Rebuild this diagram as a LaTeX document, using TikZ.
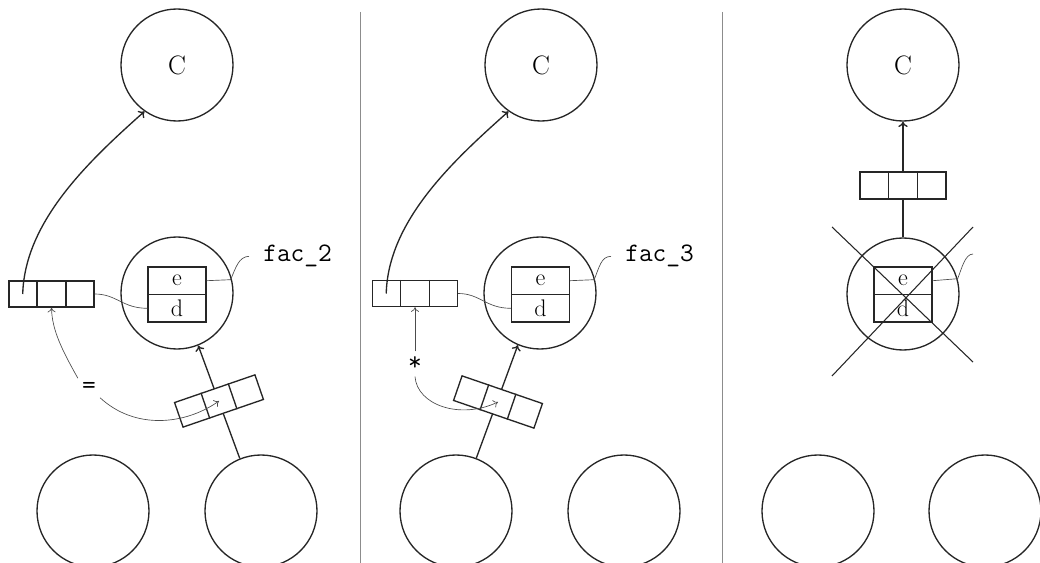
\documentclass[tikz,border=0pt]{standalone}
\usepackage{fontspec}
\usetikzlibrary{calc,arrows.meta}

% dividers of a three-cell record box (works for rotated boxes too)
\newcommand\celldiv[1]{%
  \draw[ink] ($(#1.north west)!1/3!(#1.north east)$) -- ($(#1.south west)!1/3!(#1.south east)$)
             ($(#1.north west)!2/3!(#1.north east)$) -- ($(#1.south west)!2/3!(#1.south east)$);}

\begin{document}
\begin{tikzpicture}[x=0.75pt,y=-0.75pt,
  every node/.style={inner sep=0pt},
  ink/.style={draw=black!85, line width=1pt},
  ring/.style={circle, ink, minimum size=84pt, font=\fontsize{20}{24}\selectfont},
  tribox/.style={rectangle, ink, fill=white, minimum width=63.75pt, minimum height=19.5pt},
  slot/.style={rectangle, ink, fill=white, minimum width=43.5pt, minimum height=20.6pt,
               font=\fontsize{18}{21}\selectfont},
  arrow/.style={ink, -{To[length=4pt,width=7pt]}},
  wire/.style={draw=black!70, line width=0.5pt},
  wirearrow/.style={wire, -{To[length=3.5pt,width=6pt]}},
  sep/.style={draw=black!45, line width=0.5pt},
  code/.style={font=\ttfamily\fontsize{20}{24}\selectfont},
  cross/.style={draw=black!85, line width=0.8pt}
]
\useasboundingbox (0,0) rectangle (1040,563);
\clip (0,0) rectangle (1040,563);

% panel separators
\draw[sep] (360,12) -- (360,563);
\draw[sep] (722,12) -- (722,563);

% ---------------- first panel ----------------
\node[ring] (C1) at (177,65) {C};
\node[ring] (M1) at (177,293) {};
\node[slot] (e1) at (177,280.7) {e};
\node[slot] (d1) at (177,308.3) {d};
\node[tribox] (L1) at (51.5,294) {}; \celldiv{L1}
\node[ring] (B1a) at (93,511) {};
\node[ring] (B1b) at (261,511) {};
\draw[arrow] (B1b.112) -- (M1.292);
\node[tribox, rotate=19] (T1) at (219,401) {}; \celldiv{T1}

\draw[arrow] ($(L1.west)!1/6!(L1.east)$) .. controls +(2,-73) and +(-55,49) .. (C1.235);
\draw[wire] (L1.east) .. controls +(22,0) and +(-25,0) .. (d1.west);
\node[code, anchor=base west, inner xsep=10.5pt] (F1) at (249,262) {fac\_2};
\draw[wire] (e1.east) -- ++(24,-1) .. controls +(5,-12) and +(-10,0) .. (F1.west);

\node[code, inner sep=3pt] (Q1) at (89,388) {=};
\draw[wirearrow] (Q1.north west) .. controls (62,350) and (52,330) .. (L1.south);
\draw[wirearrow] (Q1.south east) .. controls (135,430) and (185,425) .. (T1.center);

% ---------------- second panel ----------------
\node[ring] (C2) at (541,65) {C};
\node[ring] (M2) at (540,293) {};
\node[slot] (e2) at (540.5,280.7) {e};
\node[slot] (d2) at (540.5,308.3) {d};
\node[tribox] (L2) at (415,293.5) {}; \celldiv{L2}
\node[ring] (B2a) at (456,511) {};
\node[ring] (B2b) at (624,511) {};
\draw[arrow] (B2a.69) -- (M2.247);
\node[tribox, rotate=-19] (T2) at (498,402) {}; \celldiv{T2}

\draw[arrow] ($(L2.west)!1/6!(L2.east)$) .. controls +(2,-73) and +(-55,49) .. (C2.235);
\draw[wire] (L2.east) .. controls +(22,0) and +(-25,0) .. (d2.west);
\node[code, anchor=base west, inner xsep=10.5pt] (F2) at (611,262) {fac\_3};
\draw[wire] (e2.east) -- ++(24,-1) .. controls +(5,-12) and +(-10,0) .. (F2.west);

\node[code, inner sep=4pt] (S2) at (415,364) {*};
\draw[wirearrow] (S2.north) -- (L2.south);
\draw[wirearrow] (S2.south) .. controls (417,405) and (460,420) .. (T2.center);

% ---------------- third panel ----------------
\node[ring] (C3) at (903,65) {C};
\node[tribox, minimum width=64.5pt, minimum height=20.25pt] (R3) at (903,185.5) {}; \celldiv{R3}
\node[ring] (M3) at (903,294) {};
\node[slot] (e3) at (903,280.7) {e};
\node[slot] (d3) at (903,308.3) {d};
\node[ring] (B3a) at (818,511) {};
\node[ring] (B3b) at (985,511) {};
\draw[ink] (M3.north) -- (R3.south);
\draw[arrow] (R3.north) -- (C3.south);
\coordinate (K3) at (973,254);
\draw[wire] (e3.east) -- ++(25,-2) .. controls +(4,-10) and +(-8,0) .. (K3);
\draw[cross] (832,227) -- (973,362);
\draw[cross] (973,227) -- (832,376);
\end{tikzpicture}
\end{document}
